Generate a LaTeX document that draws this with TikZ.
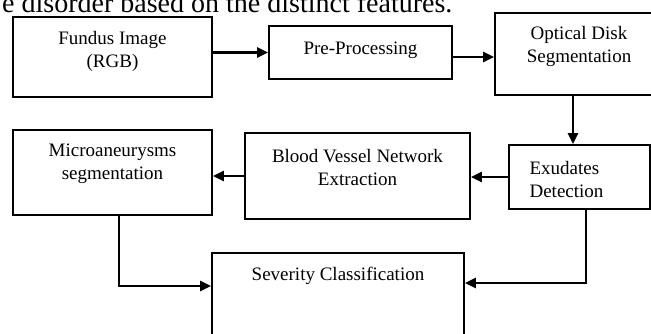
\documentclass[tikz,border=0pt]{standalone}
\usepackage{fontspec}
\setmainfont{Liberation Serif}
\usetikzlibrary{arrows.meta,positioning}

\begin{document}
\begin{tikzpicture}[
  x=1pt,
  y=1pt,
  font=\fontsize{19}{23}\selectfont,
  stage/.style={rectangle, draw=black, line width=1.8pt, fill=white, inner sep=0pt},
  flow/.style={-{Triangle[length=11pt,width=10pt]}, line width=2.3pt},
  lab/.style={align=center, inner sep=0pt}
]
  \useasboundingbox (0,0) rectangle (651,333);
  \clip (0,0) rectangle (651,333);

  % cut-off sentence above the figure
  \node[anchor=base west, inner sep=0pt, font=\fontsize{28}{30}\selectfont] (caption) at (2,320) {e disorder based on the distinct features.};

  % boxes
  \node[stage, minimum width=199pt, minimum height=80pt] (fundus) at (112.5,276) {};
  \node[stage, minimum width=183pt, minimum height=53pt] (pre) at (360.5,280.5) {};
  \node[stage, minimum width=168pt, minimum height=82pt] (optical) at (579,279) {};
  \node[stage, minimum width=141pt, minimum height=64pt] (exudates) at (579.5,156) {};
  \node[stage, minimum width=225pt, minimum height=86pt] (blood) at (357.5,157) {};
  \node[stage, minimum width=199pt, minimum height=85pt] (micro) at (112.5,160.5) {};
  \node[stage, minimum width=252pt, minimum height=92pt] (severity) at (338,34) {};

  % labels
  \node[lab] (fundustxt) at ([yshift=5.5pt]fundus.center) {Fundus Image\\(RGB)};
  \node[lab] (pretxt) at ([yshift=2.5pt]pre.center) {Pre-Processing};
  \node[lab] (opticaltxt) at ([yshift=7.5pt]optical.center) {Optical Disk\\Segmentation};
  \node[lab, align=left] (exudatestxt) at ([xshift=-13pt,yshift=-2.5pt]exudates.center) {Exudates\\Detection};
  \node[lab] (bloodtxt) at ([yshift=9pt]blood.center) {Blood Vessel Network\\Extraction};
  \node[lab] (microtxt) at ([yshift=8.5pt]micro.center) {Microaneurysms\\segmentation};
  \node[lab] (severitytxt) at ([yshift=23pt]severity.center) {Severity Classification};

  % connectors
  \coordinate (preout) at ([yshift=-4.5pt]pre.east);
  \coordinate (opticalout) at ([xshift=-6pt]optical.south);
  \draw[flow] (fundus.east |- pre.west) -- (pre.west);
  \draw[flow] (preout) -- (optical.west |- preout);
  \draw[flow] (opticalout) -- (opticalout |- exudates.north);
  \draw[flow] (exudates.west) -- (blood.east |- exudates.west);
  \draw[flow] (blood.west) -- (micro.east |- blood.west);
  \draw[flow] ([xshift=6.5pt]micro.south) |- ([yshift=13pt]severity.west);
  \draw[flow] ([xshift=6.5pt]exudates.south) |- ([yshift=16pt]severity.east);
\end{tikzpicture}
\end{document}
